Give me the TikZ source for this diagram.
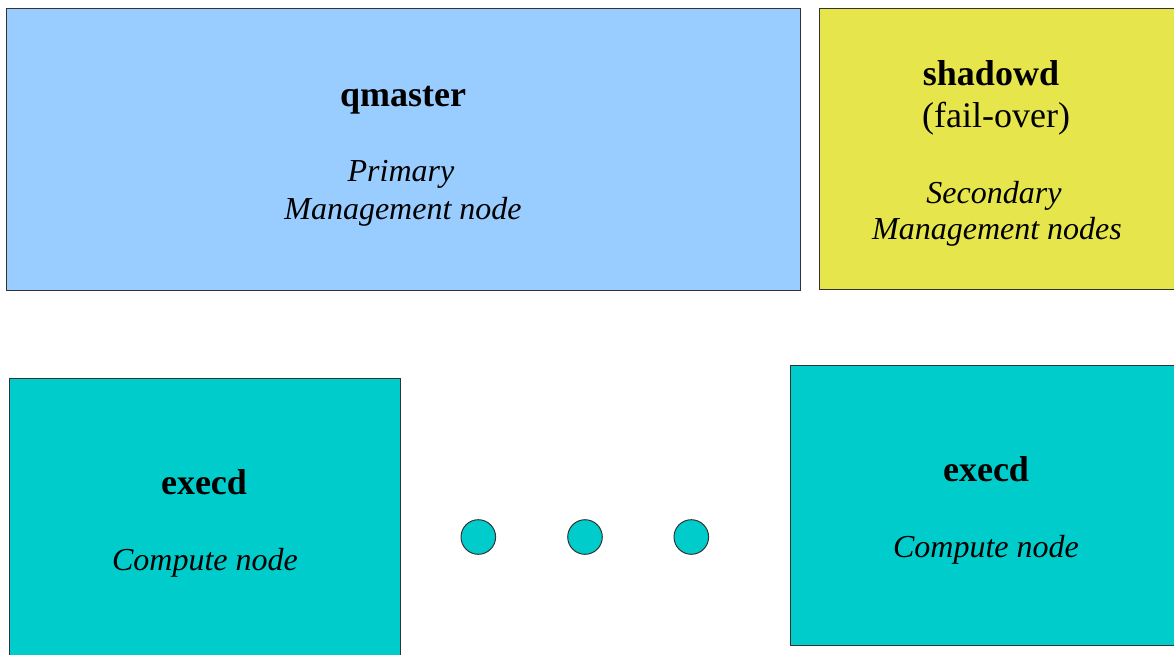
\documentclass[tikz,border=0pt]{standalone}
\usepackage{fontspec}
\setmainfont{Liberation Serif}
\definecolor{mgmtblue}{HTML}{99CCFF}
\definecolor{mgmtyellow}{HTML}{E6E64C}
\definecolor{computeteal}{HTML}{00CCCC}
\definecolor{edgegray}{HTML}{333333}
\tikzset{
  panel/.style={draw=edgegray, line width=1pt},
  dotnode/.style={circle, draw=edgegray, line width=1pt, fill=computeteal, minimum size=34.6pt, inner sep=0pt},
  titletext/.style={anchor=base, inner sep=0pt, font=\fontsize{36}{41}\selectfont\bfseries},
  plaintext/.style={anchor=base, inner sep=0pt, font=\fontsize{36}{41}\selectfont},
  roletext/.style={anchor=base, inner sep=0pt, font=\fontsize{32}{37}\selectfont\itshape}
}
\begin{document}
\begin{tikzpicture}[x=1pt,y=-1pt]
\useasboundingbox (0,0) rectangle (1174,655);
% boxes
\path[panel, fill=mgmtblue] (6,9) rectangle (800,290);
\path[panel, fill=mgmtyellow] (819,9) rectangle (1180,289);
\path[panel, fill=computeteal] (9,378) rectangle (400,662);
\path[panel, fill=computeteal] (790,365) rectangle (1180,645);
% qmaster
\node[titletext] (qm) at (403,107) {qmaster};
\node[roletext] (qm1) at (401,182) {Primary};
\node[roletext] (qm2) at (403,219) {Management node};
% shadowd
\node[titletext] (sd) at (991,86) {shadowd};
\node[plaintext] (sd1) at (996,128) {(fail-over)};
\node[roletext] (sd2) at (994,203) {Secondary};
\node[roletext] (sd3) at (997,239) {Management nodes};
% execd left
\node[titletext] (ex1) at (204,494) {execd};
\node[roletext] (ex1a) at (205,570) {Compute node};
% execd right
\node[titletext] (ex2) at (986,481) {execd};
\node[roletext] (ex2a) at (986,557) {Compute node};
% dots
\node[dotnode] (d1) at (478.3,537) {};
\node[dotnode] (d2) at (585,537) {};
\node[dotnode] (d3) at (691.3,537) {};
\end{tikzpicture}
\end{document}
